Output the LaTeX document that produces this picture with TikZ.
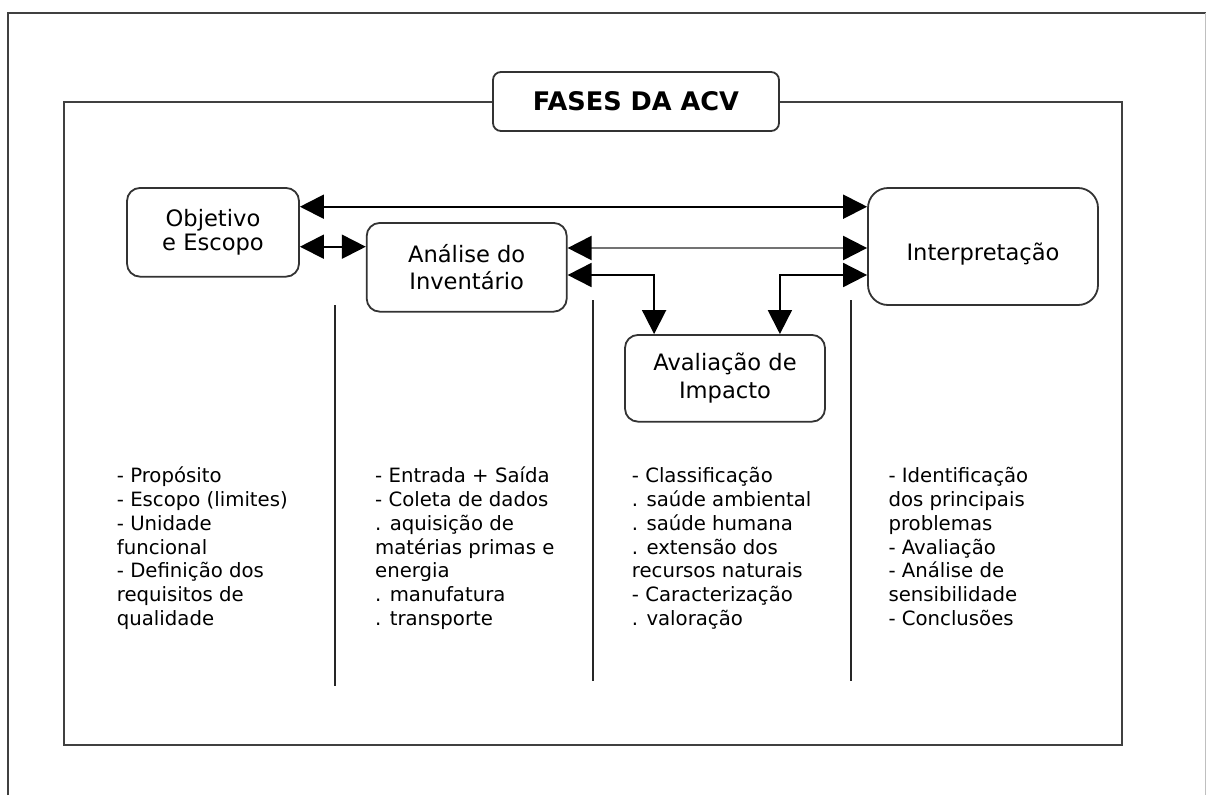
\documentclass[tikz,border=0pt]{standalone}
\usepackage{fontspec}
\setmainfont{DejaVu Sans}
\usetikzlibrary{arrows.meta}
\newcommand\acvtitle{\fontsize{25.6}{30}\selectfont\bfseries}
\newcommand\acvboxa{\fontsize{22.6}{27.5}\selectfont}
\newcommand\acvboxb{\fontsize{22.6}{24.5}\selectfont}
\newcommand\acvlist{\fontsize{19.7}{23.7}\selectfont}
\begin{document}
\begin{tikzpicture}[x=1pt,y=-1pt,
  frame/.style={draw=black!75, line width=2pt},
  box/.style={draw=black!80, line width=1.8pt, fill=white, inner sep=0pt, align=center, font=\acvboxa},
  arr/.style={line width=1.9pt, {Triangle[length=24pt,width=24pt]}-{Triangle[length=24pt,width=24pt]}},
  list/.style={anchor=north west, inner sep=0pt, align=left, font=\acvlist},
  divider/.style={draw=black!85, line width=2pt}]
\useasboundingbox (0,0) rectangle (1206,795);
% outer and inner frames
\draw[frame] (8,795) -- (8,12.7) -- (1206,12.7);
\draw[draw=black!25, line width=1pt] (1205,12.7) -- (1205,795);
\draw[frame] (64,101.7) rectangle (1121.7,745);
% title
\node[box, minimum width=286pt, minimum height=59pt, rounded corners=8pt, font=\acvtitle] (title) at (636,101.5) {FASES DA ACV};
% phase boxes
\node[box, minimum width=172pt, minimum height=88.7pt, rounded corners=13pt, font=\acvboxb] (obj) at (213,232.3) {Objetivo\\e Escopo};
\node[box, minimum width=200pt, minimum height=88.7pt, rounded corners=13pt] (ana) at (466.7,267.3) {Análise do\\Inventário};
\node[box, minimum width=200pt, minimum height=86.7pt, rounded corners=13pt] (ava) at (725,378.3) {Avaliação de\\Impacto};
\node[box, minimum width=230pt, minimum height=117pt, rounded corners=20pt, text height=27.5pt, text depth=0pt] (int) at (983,246.5) {Interpretação};
% connectors
\coordinate (ya) at (0,206.7);
\coordinate (yb) at (0,246.7);
\coordinate (yc) at (0,248);
\coordinate (yd) at (0,275);
\draw[arr] (obj.east |- ya) -- (int.west |- ya);
\draw[arr] (obj.east |- yb) -- (ana.west |- yb);
\draw[arr, draw=black!55, line width=2pt, {Triangle[length=24pt,width=24pt,color=black]}-{Triangle[length=24pt,width=24pt,color=black]}] (ana.east |- yc) -- (int.west |- yc);
\draw[arr] (ana.east |- yd) -| ([xshift=30pt]ava.north west);
\draw[arr] (int.west |- yd) -| ([xshift=-46pt]ava.north east);
% dividers
\draw[divider] (335,305) -- (335,686);
\draw[divider] (593.3,300) -- (593.3,681);
\draw[divider] (851,300) -- (851,681);
% lists
\node[list] (l1) at (116.7,466.1) {\strut- Propósito\\- Escopo (limites)\\- Unidade\\funcional\\- Definição dos\\requisitos de\\qualidade};
\node[list] (l2) at (375,466.1) {\strut- Entrada + Saída\\- Coleta de dados\\. aquisição de\\matérias primas e\\energia\\. manufatura\\. transporte};
\node[list] (l3) at (631.7,466.1) {\strut- Classificação\\. saúde ambiental\\. saúde humana\\. extensão dos\\recursos naturais\\- Caracterização\\. valoração};
\node[list] (l4) at (888.3,466.1) {\strut- Identificação\\dos principais\\problemas\\- Avaliação\\- Análise de\\sensibilidade\\- Conclusões};
\end{tikzpicture}
\end{document}
